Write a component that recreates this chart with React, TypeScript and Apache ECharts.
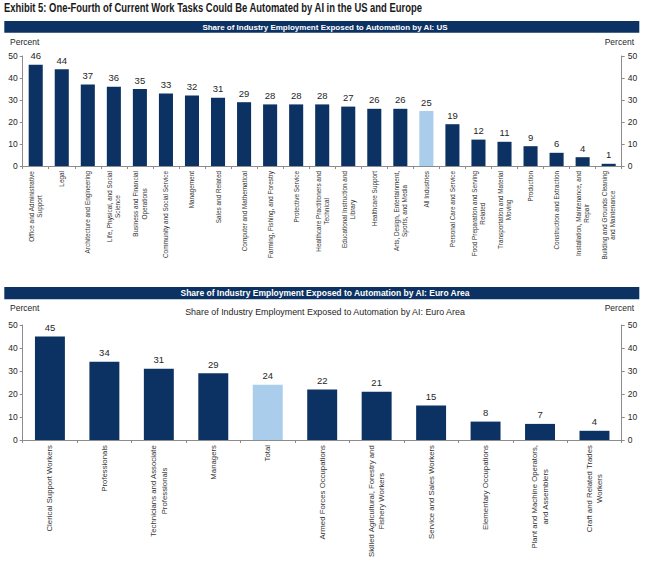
import React, { useEffect, useRef } from "react";
import * as echarts from "echarts";

const usCategories = [
  "Office and Administrative\nSupport",
  "Legal",
  "Architecture and Engineering",
  "Life, Physical, and Social\nScience",
  "Business and Financial\nOperations",
  "Community and Social Service",
  "Management",
  "Sales and Related",
  "Computer and Mathematical",
  "Farming, Fishing, and Forestry",
  "Protective Service",
  "Healthcare Practitioners and\nTechnical",
  "Educational Instruction and\nLibrary",
  "Healthcare Support",
  "Arts, Design, Entertainment,\nSports, and Media",
  "All Industries",
  "Personal Care and Service",
  "Food Preparation and Serving\nRelated",
  "Transportation and Material\nMoving",
  "Production",
  "Construction and Extraction",
  "Installation, Maintenance, and\nRepair",
  "Building and Grounds Cleaning\nand Maintenance",
];
const usValues = [46, 44, 37, 36, 35, 33, 32, 31, 29, 28, 28, 28, 27, 26, 26, 25, 19, 12, 11, 9, 6, 4, 1];
const usHighlight = "All Industries";

const euCategories = [
  "Clerical Support Workers",
  "Professionals",
  "Technicians and Associate\nProfessionals",
  "Managers",
  "Total",
  "Armed Forces Occupations",
  "Skilled Agricultural, Forestry and\nFishery Workers",
  "Service and Sales Workers",
  "Elementary Occupations",
  "Plant and Machine Operators,\nand Assemblers",
  "Craft and Related Trades\nWorkers",
];
const euValues = [45, 34, 31, 29, 24, 22, 21, 15, 8, 7, 4];
const euHighlight = "Total";

const yTicks = [0, 10, 20, 30, 40, 50];

const titleText = "Exhibit 5: One-Fourth of Current Work Tasks Could Be Automated by AI in the US and Europe";
const usBandText = "Share of Industry Employment Exposed to Automation by AI: US";
const euBandText = "Share of Industry Employment Exposed to Automation by AI: Euro Area";
const euSubtitle = "Share of Industry Employment Exposed to Automation by AI: Euro Area";
const unitText = "Percent";

const NAVY = "#0c3263";
const LIGHT = "#a9cdea";
const AXIS = "#8c8c8c";
const TEXT = "#262626";
const FONT = "Arial, 'Liberation Sans', sans-serif";

export default function App() {
  const ref = useRef<HTMLDivElement>(null);
  useEffect(() => {
    if (!ref.current) return;
    const chart = echarts.init(ref.current, undefined, { renderer: "svg" });

    const makeCatAxis = (gridIndex: number, data: string[], fs: number, lh: number) => ({
      type: "category",
      gridIndex,
      data,
      boundaryGap: true,
      axisLine: { show: true, lineStyle: { color: AXIS, width: 1 } },
      axisTick: { show: true, alignWithLabel: false, length: 3, lineStyle: { color: AXIS } },
      axisLabel: {
        interval: 0,
        rotate: 90,
        margin: 5,
        fontFamily: FONT,
        formatter: (v: string) => v.split("\n").map((l) => `{c|${l}}`).join("\n"),
        rich: { c: { align: "center", fontSize: fs, lineHeight: lh, color: "#333", fontFamily: FONT } },
      },
    });
    const makeValAxis = (gridIndex: number, position: string, margin: number) => ({
      type: "value",
      gridIndex,
      position,
      min: yTicks[0],
      max: yTicks[yTicks.length - 1],
      interval: 10,
      splitLine: { show: false },
      axisLine: { show: true, lineStyle: { color: AXIS } },
      axisTick: { show: true, length: 3, lineStyle: { color: AXIS } },
      axisLabel: { fontSize: 8.5, color: TEXT, fontFamily: FONT, margin },
    });
    const makeData = (cats: string[], vals: number[], hi: string) =>
      vals.map((v, i) => ({ value: v, itemStyle: { color: cats[i] === hi ? LIGHT : NAVY } }));

    chart.setOption({
      animation: false,
      backgroundColor: "#ffffff",
      grid: [
        { left: 22.7, right: 28.3, top: 56, height: 110 },
        { left: 22.7, right: 28.3, top: 325, height: 115 },
      ],
      xAxis: [makeCatAxis(0, usCategories, 6.4, 8.3), makeCatAxis(1, euCategories, 7.8, 10.5)],
      yAxis: [
        makeValAxis(0, "left", 5),
        makeValAxis(0, "right", 6),
        makeValAxis(1, "left", 5),
        makeValAxis(1, "right", 6),
      ],
      series: [
        {
          type: "bar",
          xAxisIndex: 0,
          yAxisIndex: 0,
          barWidth: "54%",
          data: makeData(usCategories, usValues, usHighlight),
          label: { show: true, position: "top", distance: 4, fontSize: 9.5, color: TEXT, fontFamily: FONT },
        },
        {
          type: "bar",
          xAxisIndex: 1,
          yAxisIndex: 2,
          barWidth: "55%",
          data: makeData(euCategories, euValues, euHighlight),
          label: { show: true, position: "top", distance: 4, fontSize: 9.5, color: TEXT, fontFamily: FONT },
        },
      ],
      graphic: [
        {
          type: "text",
          x: 4,
          y: 7.5,
          scaleX: 0.755,
          style: {
            text: titleText,
            fontSize: 12.5,
            fontWeight: "bold",
            fontFamily: FONT,
            fill: "#1a1a1a",
            verticalAlign: "middle",
          },
        },
        { type: "rect", shape: { x: 4.3, y: 21, width: 635, height: 11.7 }, style: { fill: NAVY } },
        {
          type: "text",
          x: 325,
          y: 27,
          style: {
            text: usBandText,
            fontSize: 8,
            fontWeight: "bold",
            fontFamily: FONT,
            fill: "#ffffff",
            align: "center",
            verticalAlign: "middle",
          },
        },
        {
          type: "text",
          x: 10,
          y: 41.5,
          style: { text: unitText, fontSize: 8.5, fontFamily: FONT, fill: TEXT, verticalAlign: "middle" },
        },
        {
          type: "text",
          x: 634,
          y: 41.5,
          style: { text: unitText, fontSize: 8.5, fontFamily: FONT, fill: TEXT, align: "right", verticalAlign: "middle" },
        },
        { type: "rect", shape: { x: 4.3, y: 287, width: 635, height: 12.3 }, style: { fill: NAVY } },
        {
          type: "text",
          x: 325,
          y: 293.2,
          style: {
            text: euBandText,
            fontSize: 8.5,
            fontWeight: "bold",
            fontFamily: FONT,
            fill: "#ffffff",
            align: "center",
            verticalAlign: "middle",
          },
        },
        {
          type: "text",
          x: 10,
          y: 308,
          style: { text: unitText, fontSize: 8.5, fontFamily: FONT, fill: TEXT, verticalAlign: "middle" },
        },
        {
          type: "text",
          x: 634,
          y: 308,
          style: { text: unitText, fontSize: 8.5, fontFamily: FONT, fill: TEXT, align: "right", verticalAlign: "middle" },
        },
        {
          type: "text",
          x: 325,
          y: 312,
          style: {
            text: euSubtitle,
            fontSize: 8.9,
            fontFamily: FONT,
            fill: TEXT,
            align: "center",
            verticalAlign: "middle",
          },
        },
      ],
    });
    return () => chart.dispose();
  }, []);
  return (
    <div
      ref={ref}
      style={{ position: "fixed", left: 0, top: 0, width: 650, height: 567, background: "#fff" }}
    />
  );
}
